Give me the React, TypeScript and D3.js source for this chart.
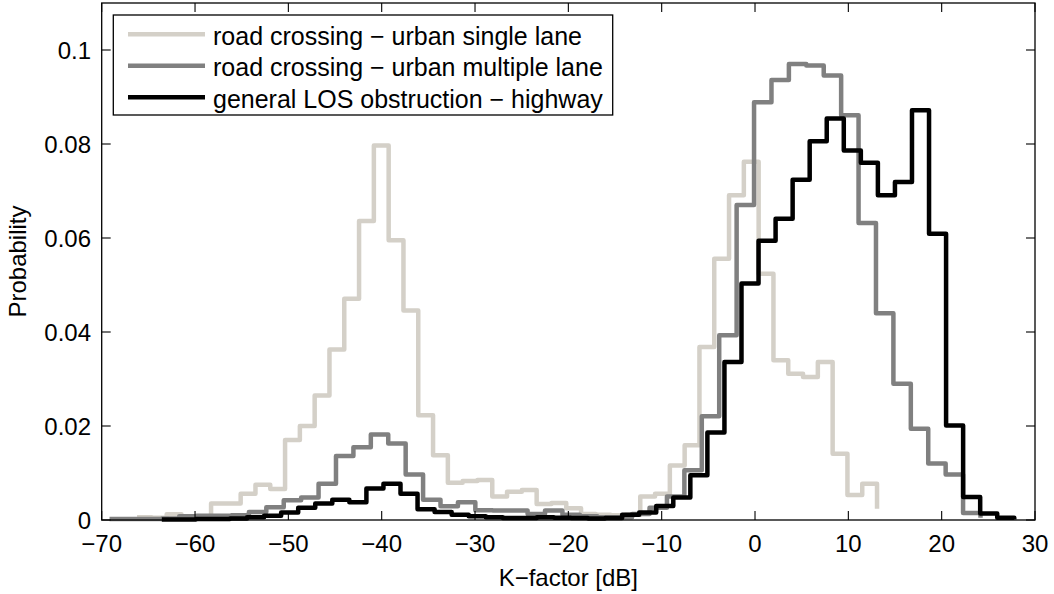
import React, { useEffect } from "react";
import * as d3 from "d3";

// ---- Data ----
const xTicks = [-70, -60, -50, -40, -30, -20, -10, 0, 10, 20, 30];
const yTicks = [0, 0.02, 0.04, 0.06, 0.08, 0.1];
const yTickLabels = ["0", "0.02", "0.04", "0.06", "0.08", "0.1"];

const seriesNames = [
  "road crossing \u2212 urban single lane",
  "road crossing \u2212 urban multiple lane",
  "general LOS obstruction \u2212 highway",
];

// histogram bin layout (dB): first bin start and bin width, 51 stairs points each
const singleLaneBinStart = -66.21;
const singleLaneBinWidth = 1.5857;
const multiLaneBinStart = -69.16;
const multiLaneBinWidth = 1.8664;
const highwayBinStart = -63.56;
const highwayBinWidth = 1.8268;

const singleLaneProb = [
  0.0006, 0.0005, 0.0012, 0.0004, 0.0004, 0.0035, 0.0035, 0.0056, 0.0075, 0.0066,
  0.017, 0.020, 0.0265, 0.0363, 0.0471, 0.0636, 0.0797, 0.0595, 0.0446, 0.0223,
  0.0138, 0.0079, 0.0083, 0.0085, 0.005, 0.006, 0.0064, 0.0034, 0.0036, 0.0025,
  0.0013, 0.0011, 0.001, 0.0011, 0.005, 0.0056, 0.0116, 0.0159, 0.0368, 0.0556,
  0.0691, 0.0762, 0.0524, 0.034, 0.0311, 0.0304, 0.0336, 0.0141, 0.0053, 0.0077,
  0.0024,
];

const multiLaneProb = [
  0.0002, 0.0002, 0.0002, 0.0003, 0.0008, 0.0009, 0.0009, 0.001, 0.0017, 0.0027,
  0.0042, 0.0048, 0.0077, 0.0136, 0.0155, 0.0182, 0.0163, 0.0097, 0.0043, 0.0029,
  0.0038, 0.0021, 0.002, 0.002, 0.0013, 0.002, 0.0011, 0.0008, 0.0006, 0.0006,
  0.0013, 0.0026, 0.005, 0.0106, 0.0221, 0.0393, 0.067, 0.0889, 0.0936, 0.097,
  0.0967, 0.0946, 0.0861, 0.0632, 0.044, 0.029, 0.0194, 0.012, 0.0097, 0.0015,
  0.0005,
];

const highwayProb = [
  0.0001, 0.0001, 0.0002, 0.0002, 0.0003, 0.0006, 0.0009, 0.0016, 0.0026, 0.0035,
  0.0043, 0.0038, 0.0067, 0.0077, 0.0056, 0.0023, 0.0017, 0.0011, 0.0008, 0.0006,
  0.0004, 0.0004, 0.0006, 0.0005, 0.0004, 0.0003, 0.0004, 0.0011, 0.0016, 0.003,
  0.0048, 0.0095, 0.0186, 0.0336, 0.0503, 0.0594, 0.0641, 0.0724, 0.0806, 0.0854,
  0.0786, 0.076, 0.0691, 0.0719, 0.0872, 0.0609, 0.0201, 0.0049, 0.0014, 0.0005,
  0.0001,
];

const seriesColors = ["rgb(212,208,200)", "rgb(128,128,128)", "#000000"];

// ---- Layout ----
const W = 1054;
const H = 594;
const left = 101.7;
const right = 1035;
const top = 3;
const bottom = 520;
const FONT = "'Liberation Sans', Arial, Helvetica, sans-serif";

export default function App() {
  useEffect(() => {
    document.body.style.margin = "0";
  }, []);

  const x = d3.scaleLinear().domain([-70, 30]).range([left, right]);
  const y = d3.scaleLinear().domain([0, 0.11]).range([bottom, top]);

  const toPts = (start: number, width: number, vals: number[]) =>
    vals.map((v, i) => [start + i * width, v] as [number, number]);

  const series = [
    toPts(singleLaneBinStart, singleLaneBinWidth, singleLaneProb),
    toPts(multiLaneBinStart, multiLaneBinWidth, multiLaneProb),
    toPts(highwayBinStart, highwayBinWidth, highwayProb),
  ];

  const line = d3
    .line<[number, number]>()
    .x((d) => x(d[0]))
    .y((d) => y(d[1]))
    .curve(d3.curveStepAfter);

  const tickLen = 9;
  const lw = 4.5;

  const legX = 113.3;
  const legY = 15;
  const legW = 499.4;
  const legH = 100;
  const rowY = [34.3, 65.8, 97.3];

  return (
    <svg
      width={W}
      height={H}
      style={{ position: "absolute", left: 0, top: 0, background: "#fff" }}
      fontFamily={FONT}
    >
      <rect x={0} y={0} width={W} height={H} fill="#fff" />
      {/* series */}
      {series.map((pts, i) => (
        <path
          key={i}
          d={line(pts) || ""}
          fill="none"
          stroke={seriesColors[i]}
          strokeWidth={lw}
          strokeLinejoin="round"
          strokeLinecap="butt"
        />
      ))}
      {/* axes box */}
      <rect
        x={left}
        y={top}
        width={right - left}
        height={bottom - top}
        fill="none"
        stroke="#000"
        strokeWidth={1.3}
      />
      {/* x ticks */}
      {xTicks.map((t) => (
        <g key={"x" + t}>
          <line x1={x(t)} x2={x(t)} y1={bottom} y2={bottom - tickLen} stroke="#000" strokeWidth={1.1} />
          <line x1={x(t)} x2={x(t)} y1={top} y2={top + tickLen} stroke="#000" strokeWidth={1.1} />
          <text x={x(t)} y={552} textAnchor="middle" fontSize={24} fill="#000">
            {t < 0 ? "\u2212" + Math.abs(t) : String(t)}
          </text>
        </g>
      ))}
      {/* y ticks */}
      {yTicks.map((t, i) => (
        <g key={"y" + t}>
          <line x1={left} x2={left + tickLen} y1={y(t)} y2={y(t)} stroke="#000" strokeWidth={1.1} />
          <line x1={right} x2={right - tickLen} y1={y(t)} y2={y(t)} stroke="#000" strokeWidth={1.1} />
          <text x={91} y={y(t) + 8.5} textAnchor="end" fontSize={24} fill="#000">
            {yTickLabels[i]}
          </text>
        </g>
      ))}
      {/* axis labels */}
      <text x={(left + right) / 2} y={586} textAnchor="middle" fontSize={24} fill="#000">
        K{"\u2212"}factor [dB]
      </text>
      <text
        transform={`translate(26,${(top + bottom) / 2}) rotate(-90)`}
        textAnchor="middle"
        fontSize={24}
        fill="#000"
      >
        Probability
      </text>
      {/* legend */}
      <rect x={legX} y={legY} width={legW} height={legH} fill="#fff" stroke="#000" strokeWidth={1.3} />
      {seriesNames.map((name, i) => (
        <g key={"leg" + i}>
          <line x1={128} x2={205} y1={rowY[i]} y2={rowY[i]} stroke={seriesColors[i]} strokeWidth={lw} />
          <text x={213} y={rowY[i] + 10.5} fontSize={25} fill="#000">
            {name}
          </text>
        </g>
      ))}
    </svg>
  );
}
